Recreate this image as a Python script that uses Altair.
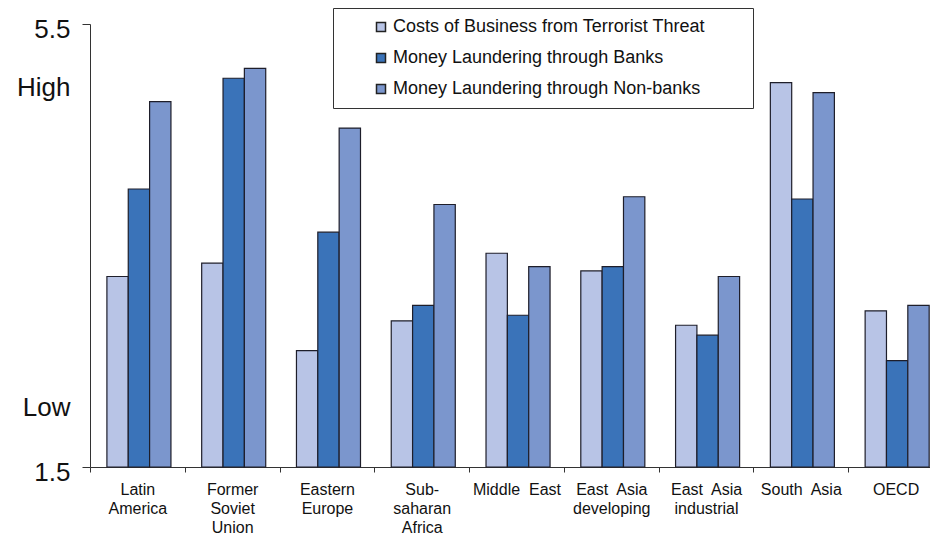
import altair as alt
import pandas as pd

regions = [
    "Latin\nAmerica",
    "Former\nSoviet\nUnion",
    "Eastern\nEurope",
    "Sub-\nsaharan\nAfrica",
    "Middle\u00a0 East",
    "East\u00a0 Asia\ndeveloping",
    "East\u00a0 Asia\nindustrial",
    "South\u00a0 Asia",
    "OECD",
]
series = [
    "Costs of Business from Terrorist Threat",
    "Money Laundering through Banks",
    "Money Laundering through Non-banks",
]
costs_terror = [3.22, 3.34, 2.55, 2.82, 3.43, 3.27, 2.78, 4.97, 2.91]
ml_banks = [4.01, 5.01, 3.62, 2.96, 2.87, 3.31, 2.69, 3.92, 2.46]
ml_nonbanks = [4.80, 5.10, 4.56, 3.87, 3.31, 3.94, 3.22, 4.88, 2.96]
colors = ["#b8c4e6", "#3a73b9", "#7b96cd"]

y_min, y_max = 1.5, 5.5
y_tick_values = [1.5, 2.08, 4.97, 5.5]
y_tick_labels = ["1.5", "Low", "High", "5.5"]

rows = []
for s, vals in zip(series, [costs_terror, ml_banks, ml_nonbanks]):
    for r, v in zip(regions, vals):
        rows.append({"region": r, "series": s, "value": v})
df = pd.DataFrame(rows)

label_expr = " : ".join(
    f"datum.value == {v} ? '{t}'" for v, t in zip(y_tick_values[:-1], y_tick_labels[:-1])
) + f" : '{y_tick_labels[-1]}'"

FONT = "Liberation Sans"

chart = (
    alt.Chart(df)
    .mark_bar(stroke="#1e1e2a", strokeWidth=1.2)
    .encode(
        x=alt.X(
            "region:N",
            sort=regions,
            scale=alt.Scale(paddingInner=0, paddingOuter=0, range=[0, 853]),
            axis=alt.Axis(
                title=None,
                labelAngle=0,
                labelExpr="split(datum.label, '\\n')",
                labelFont=FONT,
                labelFontSize=16,
                labelLineHeight=19,
                labelPadding=9,
                labelColor="#111",
                tickSize=5,
                tickBand="extent",
                tickColor="#333",
                domainColor="#333",
                labelLimit=200,
            ),
        ),
        xOffset=alt.XOffset(
            "series:N",
            sort=series,
            scale=alt.Scale(paddingInner=0, paddingOuter=0.72, align=0.55),
        ),
        y=alt.Y(
            "value:Q",
            scale=alt.Scale(domain=[y_min, y_max], nice=False, zero=False),
            axis=alt.Axis(
                title=None,
                values=y_tick_values,
                labelExpr=label_expr,
                labelFont=FONT,
                labelFontSize=26,
                labelColor="#111",
                labelPadding=12,
                labelOffset=5,
                tickSize=8,
                tickColor="#333",
                tickOpacity=alt.condition(
                    "datum.value == 1.5 || datum.value == 5.5", alt.value(1), alt.value(0)
                ),
                domainColor="#333",
                grid=False,
            ),
        ),
        y2=alt.datum(y_min),
        color=alt.Color(
            "series:N",
            sort=series,
            scale=alt.Scale(domain=series, range=colors),
            legend=alt.Legend(
                orient="none",
                legendX=243,
                legendY=-16,
                direction="vertical",
                title=" ",
                titleOrient="right",
                titleFontSize=2,
                titlePadding=38,
                padding=10,
                strokeColor="#333",
                fillColor="white",
                symbolType="square",
                symbolSize=81,
                symbolStrokeColor="#222",
                symbolStrokeWidth=1.5,
                symbolOffset=29,
                labelOffset=3,
                labelFont=FONT,
                labelFontSize=18,
                labelColor="#111",
                labelLimit=400,
                rowPadding=13,
            ),
        ),
    )
    .properties(
        width=840,
        height=443,
        autosize=alt.AutoSizeParams(type="none"),
        padding={"left": 82, "top": 16, "right": 0, "bottom": 69},
    )
    .configure_view(stroke=None)
)

chart.save("out.html", embed_options={"renderer": "svg", "actions": False})
